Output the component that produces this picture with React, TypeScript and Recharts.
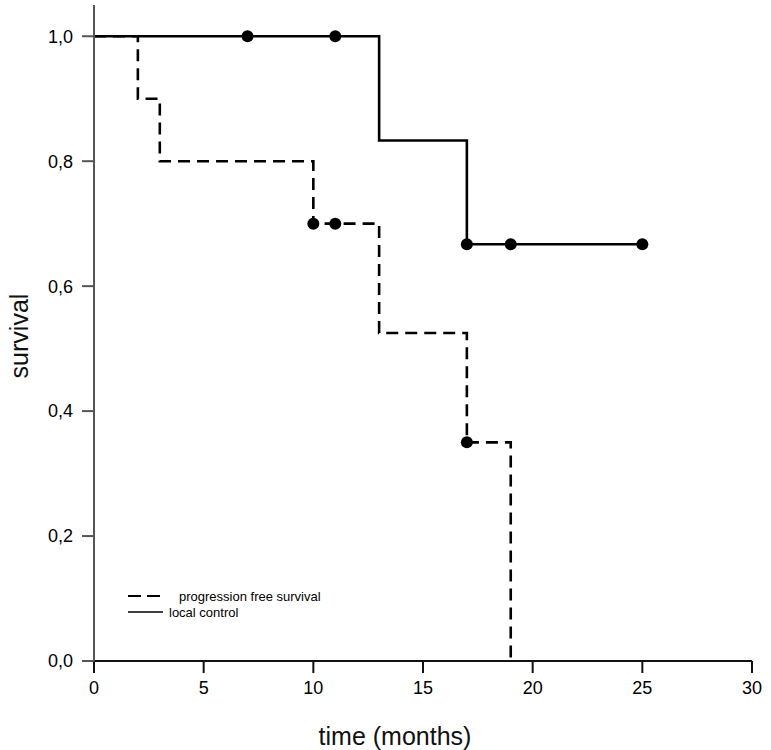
import React from "react";
import {
  ComposedChart,
  Line,
  Scatter,
  XAxis,
  YAxis,
} from "recharts";

// Kaplan-Meier step curves (time in months, survival fraction)
const localControlSteps = [
  { t: 0, v: 1.0 },
  { t: 13, v: 0.833 },
  { t: 17, v: 0.667 },
  { t: 25, v: 0.667 },
];
const pfsSteps = [
  { t: 0, v: 1.0 },
  { t: 2, v: 0.9 },
  { t: 3, v: 0.8 },
  { t: 10, v: 0.7 },
  { t: 13, v: 0.525 },
  { t: 17, v: 0.35 },
  { t: 19, v: 0 },
];

// censored observations
const localControlCensored = [
  { t: 7, v: 1.0 },
  { t: 11, v: 1.0 },
  { t: 17, v: 0.667 },
  { t: 19, v: 0.667 },
  { t: 25, v: 0.667 },
];
const pfsCensored = [
  { t: 10, v: 0.7 },
  { t: 11, v: 0.7 },
  { t: 17, v: 0.35 },
];

const xTicks = [0, 5, 10, 15, 20, 25, 30];
const yTicks = [0, 0.2, 0.4, 0.6, 0.8, 1.0];

const FONT = "'Liberation Sans', Arial, sans-serif";
const DASH = "12 7";

const Dot = (props: any) => {
  const { cx, cy } = props;
  if (cx == null || cy == null) return null;
  return <circle cx={cx} cy={cy} r={6} fill="#000" />;
};

// legend drawn as an overlay so it doesn't eat plot space
function ChartLegend() {
  return (
    <svg
      width={220}
      height={32}
      style={{ position: "absolute", left: 128, top: 588, fontFamily: FONT }}
    >
      <line x1={0} y1={8} x2={35} y2={8} stroke="#000" strokeWidth={2.2} strokeDasharray="13 6" />
      <text x={51} y={12.5} fontSize={13} fill="#000">progression free survival</text>
      <line x1={0} y1={24} x2={35} y2={24} stroke="#000" strokeWidth={1.6} />
      <text x={41} y={28.5} fontSize={13} fill="#000">local control</text>
    </svg>
  );
}

export default function App() {
  return (
    <div style={{ position: "absolute", left: 0, top: 0, width: 771, height: 750, background: "#fff" }}>
      <ComposedChart
        width={771}
        height={750}
        margin={{ top: 5, right: 19, left: 0, bottom: 0 }}
      >
        <XAxis
          type="number"
          dataKey="t"
          domain={[0, 30]}
          ticks={xTicks}
          allowDataOverflow
          height={89}
          stroke="#111"
          strokeWidth={2}
          tickSize={12}
          tickMargin={8}
          fontSize={18}
          tick={{ fontSize: 18, fill: "#000", fontFamily: FONT }}
          label={{
            value: "time (months)",
            position: "insideBottom",
            offset: 0,
            dx: -28,
            dy: -5,
            style: { fontSize: 25, fill: "#111", fontFamily: FONT },
          }}
        />
        <YAxis
          type="number"
          dataKey="v"
          domain={[0, 1.05]}
          ticks={yTicks}
          allowDataOverflow
          width={94}
          stroke="#555"
          strokeWidth={2}
          tickSize={12}
          tickMargin={9}
          fontSize={18}
          tickFormatter={(v: number) => v.toFixed(1).replace(".", ",")}
          tick={{ fontSize: 18, fill: "#000", fontFamily: FONT }}
          label={{
            value: "survival",
            angle: -90,
            position: "insideLeft",
            offset: 0,
            dx: 19,
            dy: 3,
            style: { fontSize: 25, fill: "#111", fontFamily: FONT, textAnchor: "middle" },
          }}
        />
        <Line
          data={pfsSteps}
          dataKey="v"
          type="stepAfter"
          stroke="#000"
          strokeWidth={2.6}
          strokeDasharray={DASH}
          dot={false}
          activeDot={false}
          isAnimationActive={false}
          legendType="none"
        />
        <Line
          data={localControlSteps}
          dataKey="v"
          type="stepAfter"
          stroke="#000"
          strokeWidth={2.6}
          dot={false}
          activeDot={false}
          isAnimationActive={false}
          legendType="none"
        />
        <Scatter
          data={localControlCensored}
          dataKey="v"
          shape={<Dot />}
          isAnimationActive={false}
          legendType="none"
        />
        <Scatter
          data={pfsCensored}
          dataKey="v"
          shape={<Dot />}
          isAnimationActive={false}
          legendType="none"
        />
      </ComposedChart>
      <ChartLegend />
    </div>
  );
}
